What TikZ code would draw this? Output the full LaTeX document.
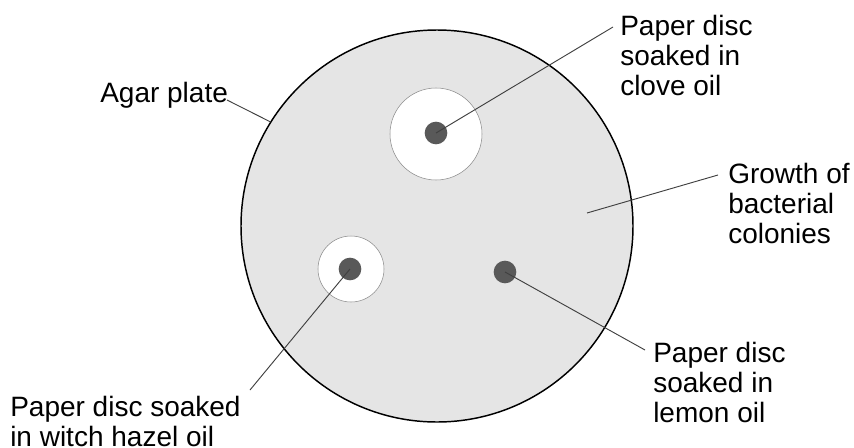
\documentclass[tikz,border=0pt]{standalone}
\usepackage{fontspec}
\setmainfont{Liberation Sans}
\begin{document}
\begin{tikzpicture}[x=0.75pt, y=-0.75pt,
    plate/.style={circle, draw=black, line width=1.1pt, fill=black!10, minimum size=294pt, inner sep=0pt},
    zone/.style={circle, draw=black!45, line width=0.4pt, fill=white, minimum size=#1, inner sep=0pt},
    disc/.style={circle, fill=black!65, minimum size=17pt, inner sep=0pt},
    leader/.style={draw=black!75, line width=0.7pt},
    lbl/.style={font=\fontsize{21}{22.5}\selectfont, align=left, anchor=base west, inner sep=0pt}]
    \useasboundingbox (0,0) rectangle (854,447);
    % Agar plate
    \node[plate] (plate) at (437,226) {};
    % Clear zones round the discs
    \node[zone=69pt] (clovezone) at (436,134) {};
    \node[zone=49.5pt] (hazelzone) at (351,269) {};
    % Paper discs
    \node[disc] (clove) at (436,133) {};
    \node[disc] (hazel) at (350,269) {};
    \node[disc] (lemon) at (505,272) {};
    % Labels (base = baseline of the last line)
    \node[lbl] (agar) at (100,102) {Agar plate};
    \node[lbl] (clovetext) at (620,95) {Paper disc\\soaked in\\clove oil};
    \node[lbl] (growth) at (728,243) {Growth of\\bacterial\\colonies};
    \node[lbl] (lemontext) at (653,422) {Paper disc\\soaked in\\lemon oil};
    \node[lbl] (hazeltext) at (10,446) {Paper disc soaked\\in witch hazel oil};
    % Leader lines
    \coordinate (agarend) at (227,100);
    \coordinate (cloveend) at (613,27);
    \coordinate (growthpt) at (587,213);
    \coordinate (growthend) at (718,175);
    \coordinate (lemonend) at (645,350);
    \coordinate (hazelend) at (250,390);
    \draw[leader] (agarend) -- (plate.148);
    \draw[leader] (clove.center) -- (cloveend);
    \draw[leader] (growthpt) -- (growthend);
    \draw[leader] (lemon.center) -- (lemonend);
    \draw[leader] (hazel.center) -- (hazelend);
\end{tikzpicture}
\end{document}
